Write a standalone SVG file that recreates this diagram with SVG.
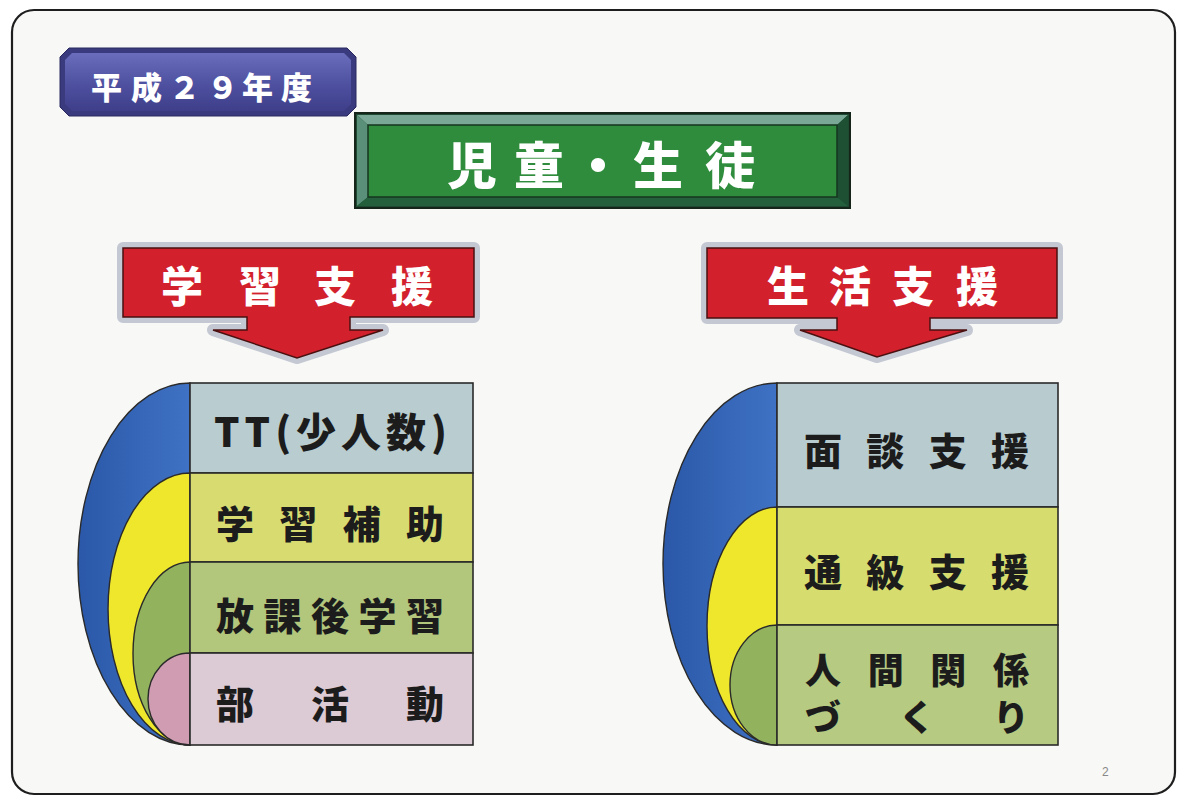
<svg xmlns="http://www.w3.org/2000/svg" width="1184" height="801" viewBox="0 0 1184 801">
<defs>
<style>
.cjk{font-family:"Noto Sans CJK JP","Noto Sans CJK SC",sans-serif;font-weight:900;}
.wt{fill:#ffffff;}
.dk{fill:#1c1c1c;}
.row{stroke:#2a2a2a;stroke-width:1.6;}
.arc{stroke:#2a2a2a;stroke-width:1.4;}
.arrow{fill:#d2202c;stroke:#4a1010;stroke-width:1.5;}
.shadow{fill:#c4c8d2;stroke:#c4c8d2;stroke-width:12;stroke-linejoin:round;}
</style>
<linearGradient id="gBadge" x1="0" y1="0" x2="0" y2="1">
<stop offset="0" stop-color="#6a6cbc"/><stop offset="0.5" stop-color="#5052a2"/><stop offset="1" stop-color="#3e3e8a"/>
</linearGradient>
<linearGradient id="gBlue" x1="0" y1="0" x2="1" y2="0">
<stop offset="0" stop-color="#2b58a8"/><stop offset="1" stop-color="#3f72c4"/>
</linearGradient>
</defs>
<rect x="0" y="0" width="1184" height="801" fill="#ffffff"/>
<rect x="12" y="10" width="1163" height="784" rx="22" fill="#f8f8f6" stroke="#1e1e1e" stroke-width="2.2"/>

<g id="badge">
<polygon points="60,57 69,48 347,48 356,57 356,107 347,116 69,116 60,107" fill="#3a3a7e" stroke="#2a2a60" stroke-width="1"/>
<polygon points="65,60 72,53 344,53 351,60 351,104 344,111 72,111 65,104" fill="url(#gBadge)"/>
<text class="cjk wt" font-size="31" font-weight="700" y="99" x="91 131 169 207 242 281">平成２９年度</text>
</g>

<g id="title">
<rect x="355" y="113" width="495" height="95" fill="#1d4a30" stroke="#15251a" stroke-width="2"/>
<polygon points="357,115 848,115 837,125 368,125" fill="#7aa896"/>
<polygon points="357,115 368,125 368,197 357,206" fill="#5a907a"/>
<polygon points="848,115 848,206 837,197 837,125" fill="#1e5034"/>
<polygon points="357,206 368,197 837,197 848,206" fill="#24603c"/>
<rect x="368" y="125" width="469" height="72" fill="#2e8c3c" stroke="#16351f" stroke-width="1.5"/>
<text class="cjk wt" font-size="50" y="184" x="447 514 573 633 705">児童・生徒</text>
</g>

<g id="arrow-left">
<path class="shadow" d="M123,248 H474 V317 H350 V330 H383 L297,358 L213,330 H247 V317 H123 Z"/>
<path class="arrow" d="M123,248 H474 V317 H350 V330 H383 L297,358 L213,330 H247 V317 H123 Z"/>
<text class="cjk wt" font-size="42" y="302" x="161 239 314 391">学習支援</text>
</g>

<g id="arrow-right">
<path class="shadow" d="M707,248 H1057 V318 H930 V330 H967 L877,357 L800,330 H837 V318 H707 Z"/>
<path class="arrow" d="M707,248 H1057 V318 H930 V330 H967 L877,357 L800,330 H837 V318 H707 Z"/>
<text class="cjk wt" font-size="42" y="302" x="767 829 892 956">生活支援</text>
</g>

<g id="left-stack">
<path class="arc" d="M190,383 A112,181 0 0 0 190,745 Z" fill="url(#gBlue)"/>
<path class="arc" d="M190,473 A82,136 0 0 0 190,745 Z" fill="#eee72c"/>
<path class="arc" d="M190,562 A57,91.5 0 0 0 190,745 Z" fill="#92b25e"/>
<path class="arc" d="M190,653 A42,46 0 0 0 190,745 Z" fill="#cf9cb2"/>
<rect class="row" x="190" y="383" width="283" height="90" fill="#b9cdd0"/>
<rect class="row" x="190" y="473" width="283" height="89" fill="#d8dc70"/>
<rect class="row" x="190" y="562" width="283" height="91" fill="#b2c67c"/>
<rect class="row" x="190" y="653" width="283" height="92" fill="#dccad4"/>
<text class="cjk dk" font-size="40" y="447" x="214" textLength="233" lengthAdjust="spacing">TT(少人数)</text>
<text class="cjk dk" font-size="38" y="538" x="216" textLength="228" lengthAdjust="spacing">学習補助</text>
<text class="cjk dk" font-size="38" y="630" x="216" textLength="228" lengthAdjust="spacing">放課後学習</text>
<text class="cjk dk" font-size="38" y="718" x="216" textLength="228" lengthAdjust="spacing">部活動</text>
</g>

<g id="right-stack">
<path class="arc" d="M777,383 A114,181 0 0 0 777,745 Z" fill="url(#gBlue)"/>
<path class="arc" d="M777,507 A70,119 0 0 0 777,745 Z" fill="#eee72c"/>
<path class="arc" d="M777,625 A47,60 0 0 0 777,745 Z" fill="#92b25e"/>
<rect class="row" x="777" y="383" width="281" height="124" fill="#b8ccd0"/>
<rect class="row" x="777" y="507" width="281" height="118" fill="#d6dc6e"/>
<rect class="row" x="777" y="625" width="281" height="120" fill="#b6ca82"/>
<text class="cjk dk" font-size="38" y="465" x="804" textLength="225" lengthAdjust="spacing">面談支援</text>
<text class="cjk dk" font-size="38" y="586" x="804" textLength="225" lengthAdjust="spacing">通級支援</text>
<text class="cjk dk" font-size="36" y="684" x="805" textLength="224" lengthAdjust="spacing">人間関係</text>
<text class="cjk dk" font-size="36" y="731" x="805" textLength="224" lengthAdjust="spacing">づくり</text>
</g>

<text x="1102" y="776" font-family="Liberation Sans, sans-serif" font-size="12" fill="#888888">2</text>
</svg>
